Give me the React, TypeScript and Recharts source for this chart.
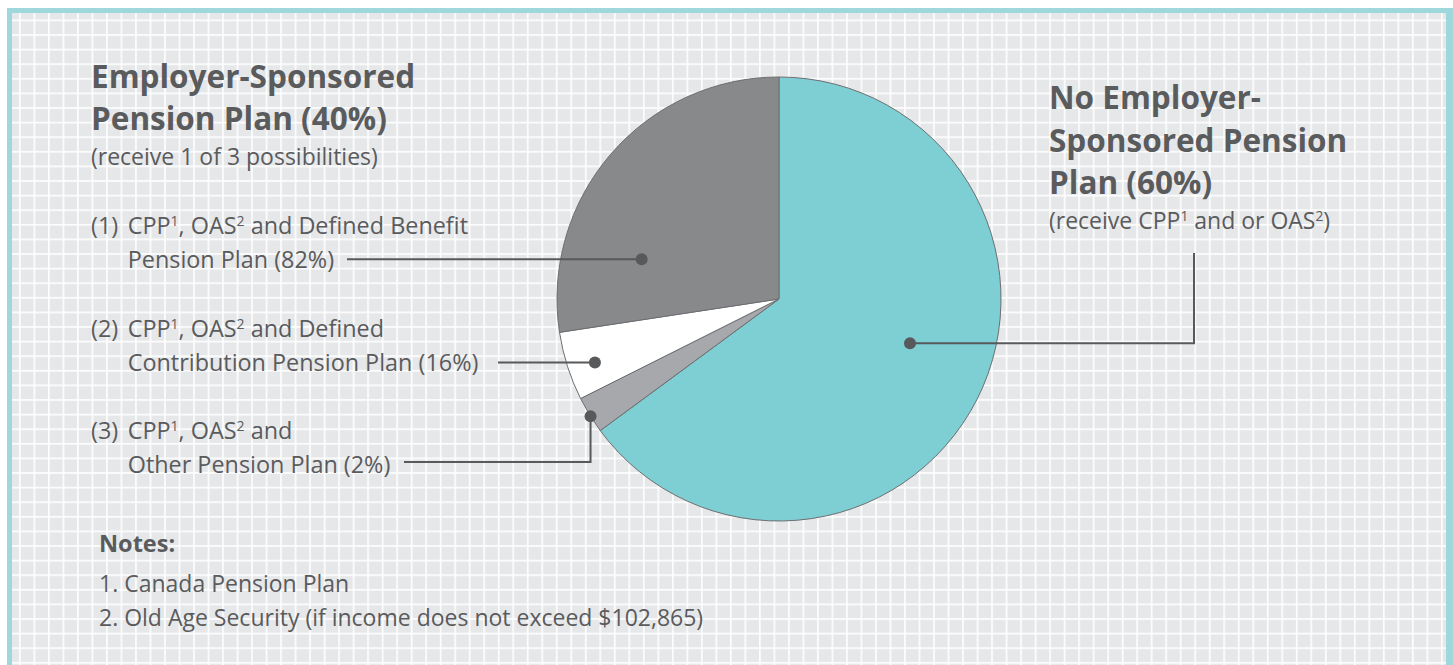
import { Pie, PieChart, Cell } from 'recharts'

// slices in drawing order, clockwise from 12 o'clock
const sliceNames = ['No Employer-Sponsored', 'Other Pension Plan', 'Defined Contribution', 'Defined Benefit']
const sliceValues = [64.9, 2.7, 5.0, 27.4]
const sliceColors = ['#7ecfd4', '#a7a8ab', '#ffffff', '#88898b']

const W = 1453
const H = 665
const CX = 779
const CY = 299
const R = 222

const INK = '#5a5b5d'
const FONT = '"Open Sans", "Noto Sans", sans-serif'

// leader dots: angle (deg, counter-clockwise from 3 o'clock), radius as fraction of the pie
const leaders = [
  { angle: -18.7, rf: 0.623, kind: 'right', toX: 1194, toY: 253 },
  { angle: 211.9, rf: 1.0, kind: 'down', toX: 404, toY: 462 },
  { angle: 199.0, rf: 0.877, kind: 'left', toX: 498, toY: 0 },
  { angle: 163.9, rf: 0.644, kind: 'left', toX: 347, toY: 0 },
]

const data = sliceNames.map((name, i) => ({ name, value: sliceValues[i] }))

function renderLeader(props: any) {
  const { cx, cy, outerRadius, index } = props
  const l = leaders[index]
  const rad = (l.angle * Math.PI) / 180
  const x = cx + outerRadius * l.rf * Math.cos(rad)
  const y = cy - outerRadius * l.rf * Math.sin(rad)
  let d = ''
  if (l.kind === 'left') d = `M${x},${y} H${l.toX}`
  if (l.kind === 'down') d = `M${x},${y} V${l.toY} H${l.toX}`
  if (l.kind === 'right') d = `M${x},${y} H${l.toX} V${l.toY}`
  return (
    <g key={`leader-${index}`}>
      <path d={d} fill="none" stroke="#58595b" strokeWidth={2} />
      <circle cx={x} cy={y} r={6} fill="#58595b" />
    </g>
  )
}

type Seg = string | { sup: string }

// text line with superscripts; shift is how far the superscript is raised
function Rich({ x, y, size, segs, shift = 8 }: { x: number; y: number; size: number; segs: Seg[]; shift?: number }) {
  let raised = false
  return (
    <text x={x} y={y} fontSize={size}>
      {segs.map((s, i) => {
        if (typeof s === 'string') {
          const dy = raised ? shift : 0
          raised = false
          return <tspan key={i} dy={dy}>{s}</tspan>
        }
        raised = true
        return <tspan key={i} dy={-shift} fontSize={size * 0.6}>{s.sup}</tspan>
      })}
    </text>
  )
}

function Background() {
  return (
    <svg width={W} height={H} style={{ position: 'absolute', left: 0, top: 0 }}>
      <defs>
        <pattern id="gridX" x={19} y={0} width={14.51} height={H} patternUnits="userSpaceOnUse">
          <rect x={0} y={0} width={1.7} height={H} fill="#ffffff" opacity={0.9} />
        </pattern>
        <pattern id="gridY" x={0} y={19.5} width={W} height={14.6} patternUnits="userSpaceOnUse">
          <rect x={0} y={0} width={W} height={1.7} fill="#ffffff" opacity={0.9} />
        </pattern>
      </defs>
      <rect x={0} y={0} width={W} height={H} fill="#ffffff" />
      <rect x={9.5} y={10.5} width={W} height={H} fill="#e6e7e9" stroke="#9ed8dc" strokeWidth={5} />
      <rect x={12} y={13} width={1434} height={H} fill="url(#gridX)" />
      <rect x={12} y={13} width={1434} height={H} fill="url(#gridY)" />
      <rect x={1446} y={0} width={7} height={H} fill="#9ed8dc" />
      <rect x={1446} y={0} width={7} height={8} fill="#ffffff" />

      <g fill={INK} fontFamily={FONT}>
        <text x={91} y={88} fontSize={31.5} fontWeight={700}>Employer-Sponsored</text>
        <text x={91} y={130} fontSize={31.5} fontWeight={700}>Pension Plan (40%)</text>
        <text x={91} y={165} fontSize={23}>(receive 1 of 3 possibilities)</text>

        <text x={91} y={234} fontSize={23.4}>(1)</text>
        <Rich x={127.7} y={234} size={23.4} segs={['CPP', { sup: '1' }, ', OAS', { sup: '2' }, ' and Defined Benefit']} />
        <text x={127.7} y={268} fontSize={23.4}>Pension Plan (82%)</text>

        <text x={91} y={337} fontSize={23.4}>(2)</text>
        <Rich x={127.7} y={337} size={23.4} segs={['CPP', { sup: '1' }, ', OAS', { sup: '2' }, ' and Defined']} />
        <text x={127.7} y={371} fontSize={23.4}>Contribution Pension Plan (16%)</text>

        <text x={91} y={439} fontSize={23.4}>(3)</text>
        <Rich x={127.7} y={439} size={23.4} segs={['CPP', { sup: '1' }, ', OAS', { sup: '2' }, ' and']} />
        <text x={127.7} y={473} fontSize={23.4}>Other Pension Plan (2%)</text>

        <text x={99} y={552} fontSize={23.5} fontWeight={700}>Notes:</text>
        <text x={99} y={592} fontSize={23}>1. Canada Pension Plan</text>
        <text x={99} y={626} fontSize={23}>2. Old Age Security (if income does not exceed $102,865)</text>

        <text x={1049} y={109} fontSize={31.5} fontWeight={700}>No Employer-</text>
        <text x={1049} y={152} fontSize={31.5} fontWeight={700}>Sponsored Pension</text>
        <text x={1049} y={194} fontSize={31.5} fontWeight={700}>Plan (60%)</text>
        <Rich x={1049} y={229} size={23} segs={['(receive CPP', { sup: '1' }, ' and or OAS', { sup: '2' }, ')']} />
      </g>
    </svg>
  )
}

export default function App() {
  return (
    <div style={{ position: 'absolute', left: 0, top: 0, width: W, height: H, overflow: 'hidden' }}>
      <Background />
      <div style={{ position: 'absolute', left: 0, top: 0 }}>
        <PieChart width={W} height={H} margin={{ top: 0, right: 0, bottom: 0, left: 0 }}>
          <Pie
            data={data}
            dataKey="value"
            nameKey="name"
            cx={CX}
            cy={CY}
            outerRadius={R}
            startAngle={90}
            endAngle={-270}
            stroke="#6d6e71"
            strokeWidth={1}
            label={renderLeader}
            labelLine={false}
            isAnimationActive={false}
          >
            {data.map((d, i) => (
              <Cell key={d.name} fill={sliceColors[i]} />
            ))}
          </Pie>
        </PieChart>
      </div>
    </div>
  )
}
